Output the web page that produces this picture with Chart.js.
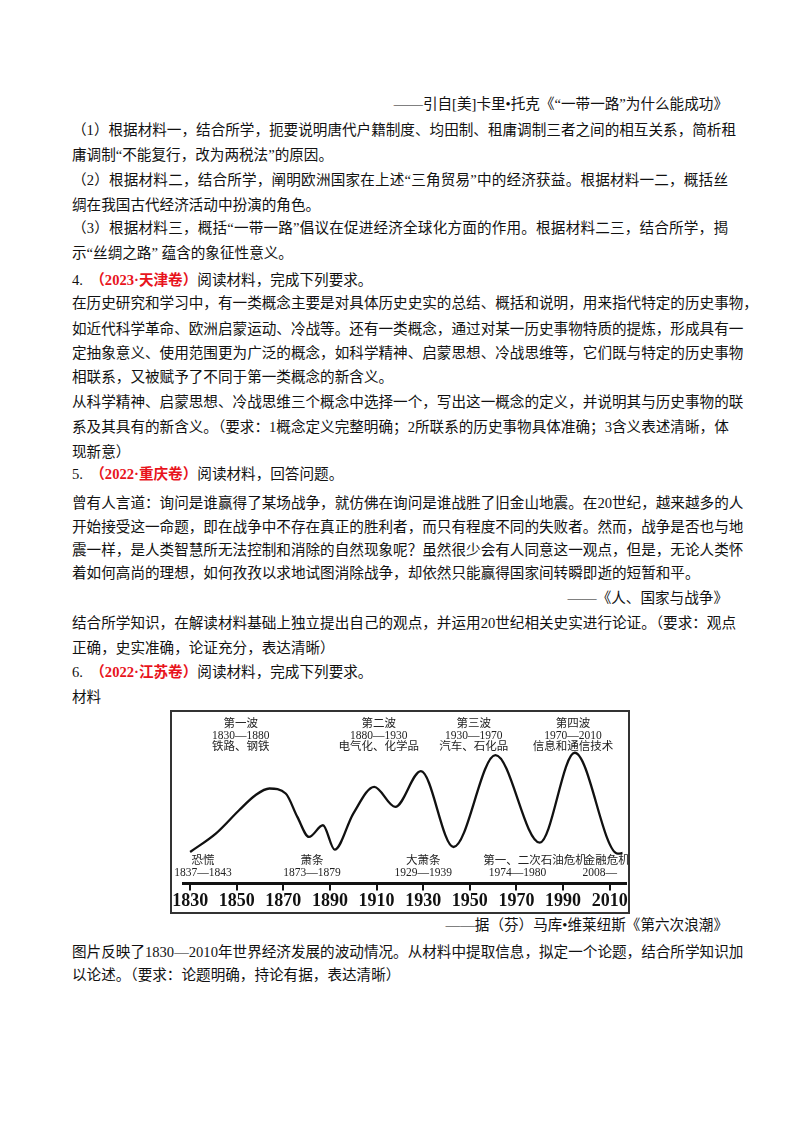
<!DOCTYPE html>
<html><head><meta charset="utf-8">
<script src="https://cdn.jsdelivr.net/npm/chart.js@4"></script>
<style>
body{margin:0;width:800px;height:1132px;background:#fff;position:relative;font-family:"Liberation Serif","Noto Sans CJK SC",serif;color:#111;}
.l{position:absolute;left:72px;width:656px;font-size:14.6px;line-height:20px;white-space:nowrap;}
.j{text-align:justify;text-align-last:justify;}
.r{text-align:right;}
.red{color:#e8141c;font-weight:bold;}
#box{position:absolute;left:170px;top:710px;width:456px;height:200px;border:2px solid #333;}
</style></head><body>
<div class="l r" style="top:94px">——引自[美]卡里•托克《“一带一路”为什么能成功》</div>
<div class="l j" style="top:120px">（1）根据材料一，结合所学，扼要说明唐代户籍制度、均田制、租庸调制三者之间的相互关系，简析租</div>
<div class="l" style="top:145px">庸调制“不能复行，改为两税法”的原因。</div>
<div class="l j" style="top:170px">（2）根据材料二，结合所学，阐明欧洲国家在上述“三角贸易”中的经济获益。根据材料一二，概括丝</div>
<div class="l" style="top:195px">绸在我国古代经济活动中扮演的角色。</div>
<div class="l j" style="top:218px">（3）根据材料三，概括“一带一路”倡议在促进经济全球化方面的作用。根据材料二三，结合所学，揭</div>
<div class="l" style="top:243px">示“丝绸之路” 蕴含的象征性意义。</div>
<div class="l" style="top:270px">4.&nbsp;&nbsp;<span class="red">（2023·天津卷）</span>阅读材料，完成下列要求。</div>
<div class="l j" style="top:293px">在历史研究和学习中，有一类概念主要是对具体历史史实的总结、概括和说明，用来指代特定的历史事物，</div>
<div class="l j" style="top:319px">如近代科学革命、欧洲启蒙运动、冷战等。还有一类概念，通过对某一历史事物特质的提炼，形成具有一</div>
<div class="l j" style="top:343px">定抽象意义、使用范围更为广泛的概念，如科学精神、启蒙思想、冷战思维等，它们既与特定的历史事物</div>
<div class="l" style="top:367px">相联系，又被赋予了不同于第一类概念的新含义。</div>
<div class="l j" style="top:392px">从科学精神、启蒙思想、冷战思维三个概念中选择一个，写出这一概念的定义，并说明其与历史事物的联</div>
<div class="l j" style="top:417px">系及其具有的新含义。（要求：1概念定义完整明确；2所联系的历史事物具体准确；3含义表述清晰，体</div>
<div class="l" style="top:442px">现新意）</div>
<div class="l" style="top:464px">5.&nbsp;&nbsp;<span class="red">（2022·重庆卷）</span>阅读材料，回答问题。</div>
<div class="l j" style="top:493px">曾有人言道：询问是谁赢得了某场战争，就仿佛在询问是谁战胜了旧金山地震。在20世纪，越来越多的人</div>
<div class="l j" style="top:517px">开始接受这一命题，即在战争中不存在真正的胜利者，而只有程度不同的失败者。然而，战争是否也与地</div>
<div class="l j" style="top:540px">震一样，是人类智慧所无法控制和消除的自然现象呢？虽然很少会有人同意这一观点，但是，无论人类怀</div>
<div class="l" style="top:563px">着如何高尚的理想，如何孜孜以求地试图消除战争，却依然只能赢得国家间转瞬即逝的短暂和平。</div>
<div class="l r" style="top:588px">——《人、国家与战争》</div>
<div class="l j" style="top:613px">结合所学知识，在解读材料基础上独立提出自己的观点，并运用20世纪相关史实进行论证。（要求：观点</div>
<div class="l" style="top:638px">正确，史实准确，论证充分，表达清晰）</div>
<div class="l" style="top:662px">6.&nbsp;&nbsp;<span class="red">（2022·江苏卷）</span>阅读材料，完成下列要求。</div>
<div class="l" style="top:687px">材料</div>
<div id="box"><canvas id="c" width="456" height="200"></canvas></div>
<div class="l r" style="top:915px">——据（芬）马库•维莱纽斯《第六次浪潮》</div>
<div class="l j" style="top:942px">图片反映了1830—2010年世界经济发展的波动情况。从材料中提取信息，拟定一个论题，结合所学知识加</div>
<div class="l" style="top:965px">以论述。（要求：论题明确，持论有据，表达清晰）</div>
<script>
const years=[1830,1841,1851,1858,1864,1871,1876,1881,1887,1892,1900,1909,1918,1929,1943,1961,1980,1995,2013.5,2015.5];
const values=[5,60,130,175,195,180,110,50,85,12,120,200,140,247,20,295,33,302,0,2];
const tickYears=[1830,1850,1870,1890,1910,1930,1950,1970,1990,2010];
const topLabels=[
 {x:1851.7,lines:["第一波","1830—1880","铁路、钢铁"]},
 {x:1910.9,lines:["第二波","1880—1930","电气化、化学品"]},
 {x:1951.7,lines:["第三波","1930—1970","汽车、石化品"]},
 {x:1994.3,lines:["第四波","1970—2010","信息和通信技术"]}];
const bottomLabels=[
 {x:1835.5,t:"恐慌",y:149},{x:1835.5,t:"1837—1843",y:161},
 {x:1882.3,t:"萧条",y:149},{x:1882.3,t:"1873—1879",y:161},
 {x:1930,t:"大萧条",y:149},{x:1930,t:"1929—1939",y:161},
 {x:1978,t:"第一、二次石油危机",y:149},{x:1970.4,t:"1974—1980",y:161},
 {x:2008.7,t:"金融危机",y:149},{x:2005.7,t:"2008—",y:161}];
const textPlugin={id:'txt',afterDatasetsDraw(ch){
 const c=ch.ctx,xs=ch.scales.x;c.save();c.fillStyle='#222';c.textAlign='center';c.textBaseline='middle';
 c.font='11.5px "Liberation Serif","Noto Sans CJK SC"';
 topLabels.forEach(l=>l.lines.forEach((s,i)=>c.fillText(s,xs.getPixelForValue(l.x),12+i*11.5)));
 bottomLabels.forEach(l=>c.fillText(l.t,xs.getPixelForValue(l.x),l.y));
 c.restore();}};
new Chart(document.getElementById('c'),{type:'line',
 data:{datasets:[{data:years.map((x,i)=>({x,y:values[i]})),borderColor:'#111',borderWidth:2.3,pointRadius:0,cubicInterpolationMode:'monotone',fill:false}]},
 options:{responsive:false,animation:false,events:[],layout:{padding:{left:8,right:2,top:0,bottom:0}},
  plugins:{legend:{display:false},tooltip:{enabled:false}},
  scales:{
   x:{type:'linear',min:1827,max:2017,afterBuildTicks:a=>{a.ticks=tickYears.map(v=>({value:v}));},
    border:{display:true,color:'#111',width:3},
    grid:{drawOnChartArea:false,color:'#111',tickLength:7,lineWidth:2},
    ticks:{color:'#111',padding:0,maxRotation:0,autoSkip:false,callback:v=>String(v),font:{family:'"Liberation Serif"',size:18,weight:'bold'}}},
   y:{display:false,min:-89,max:424}}},
 plugins:[textPlugin]});
</script>
</body></html>
